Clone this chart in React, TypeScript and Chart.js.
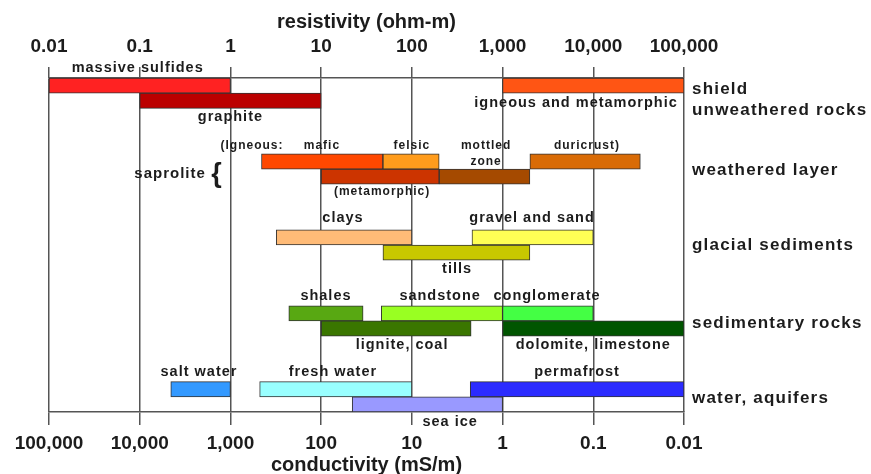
import React, { useEffect, useRef } from 'react';
import { Chart, registerables } from 'chart.js';

Chart.register(...registerables);

const FONT = '"Liberation Sans", Arial, Helvetica, sans-serif';
const TEXT = '#1c1c1c';
const GRID = '#555555';

// axis ticks
const resistivityTicks = [0.01, 0.1, 1, 10, 100, 1000, 10000, 100000];
const resistivityLabels = ['0.01', '0.1', '1', '10', '100', '1,000', '10,000', '100,000'];
const conductivityLabels = ['100,000', '10,000', '1,000', '100', '10', '1', '0.1', '0.01'];

// row slots (top to bottom)
const slotLabels = [
  's0', 's1', 's2', 's3', 's4', 's5', 's6', 's7', 's8', 's9', 's10',
  's11', 's12', 's13', 's14', 's15', 's16', 's17', 's18', 's19', 's20', 's21',
];

// materials: resistivity range in ohm-m
const materials = [
  'massive sulfides', 'graphite', 'igneous and metamorphic',
  'mafic', 'felsic', 'metamorphic', 'mottled zone', 'duricrust',
  'clays', 'gravel and sand', 'tills',
  'shales', 'sandstone', 'conglomerate', 'lignite, coal', 'dolomite, limestone',
  'salt water', 'fresh water', 'permafrost', 'sea ice',
];
const lowValues = [
  0.01, 0.1, 1000,
  2.2, 48, 10, 200, 2000,
  3.2, 460, 48,
  4.4, 46, 1000, 10, 1000,
  0.22, 2.1, 440, 22,
];
const highValues = [
  1, 10, 100000,
  48, 200, 200, 2000, 33000,
  100, 10000, 2000,
  29, 1000, 10000, 450, 100000,
  1, 100, 100000, 1000,
];
const materialRows = [
  0, 1, 0,
  5, 5, 6, 6, 5,
  10, 10, 11,
  15, 15, 15, 16, 16,
  20, 20, 20, 21,
];
const materialColors = [
  '#ff2222', '#bb0000', '#ff5514',
  '#ff4800', '#ff9c1c', '#cc3400', '#a54a00', '#d96b06',
  '#ffbb77', '#ffff55', '#c8c800',
  '#58a812', '#99ff22', '#44ff44', '#3a7600', '#005500',
  '#3399ff', '#99ffff', '#2b2bff', '#9999ff',
];

// annotation texts (x in ohm-m, y in row slots)
const noteTexts = [
  'massive sulfides', 'graphite', 'igneous and metamorphic',
  '(Igneous:', 'mafic', 'felsic', 'mottled', 'zone', 'duricrust)', '(metamorphic)',
  'saprolite', '{',
  'clays', 'gravel and sand', 'tills',
  'shales', 'sandstone', 'conglomerate', 'lignite, coal', 'dolomite, limestone',
  'salt water', 'fresh water', 'permafrost', 'sea ice',
];
const noteX = [
  0.095, 1, 6460,
  1.73, 10.2, 100, 658, 658, 8500, 47,
  0.216, 0.71,
  17.4, 2114, 315,
  11.3, 205, 3090, 78, 10000,
  0.45, 13.5, 6620, 264,
];
const noteSlot = [
  -1.15, 2.07, 1.15,
  3.98, 3.98, 3.98, 3.98, 5.03, 3.98, 7.01,
  5.82, 5.85,
  8.72, 8.72, 12.08,
  13.86, 13.86, 13.86, 17.09, 17.09,
  18.87, 18.87, 18.87, 22.16,
];
const noteSize = [
  14.5, 14.5, 14.5,
  12, 12, 12, 12, 12, 12, 12,
  15, 27,
  14.5, 14.5, 14.5,
  14.5, 14.5, 14.5, 14.5, 14.5,
  14.5, 14.5, 14.5, 14.5,
];

// group labels on the right
const groupTexts = ['shield', 'unweathered rocks', 'weathered layer', 'glacial sediments', 'sedimentary rocks', 'water, aquifers'];
const groupSlot = [0.23, 1.61, 5.56, 10.5, 15.64, 20.58];

const notesPlugin = {
  id: 'notes',
  afterDraw(chart: any) {
    const { ctx, chartArea } = chart;
    const xs = chart.scales.x;
    const ys = chart.scales.y;
    ctx.save();
    ctx.fillStyle = TEXT;
    ctx.textBaseline = 'middle';
    ctx.textAlign = 'center';
    (ctx as any).letterSpacing = '1px';
    noteTexts.forEach((t, i) => {
      ctx.font = `bold ${noteSize[i]}px ${FONT}`;
      ctx.fillText(t, xs.getPixelForValue(noteX[i]), ys.getPixelForValue(noteSlot[i]));
    });
    ctx.textAlign = 'left';
    ctx.font = `bold 17px ${FONT}`;
    (ctx as any).letterSpacing = '1.2px';
    groupTexts.forEach((t, i) => {
      ctx.fillText(t, chartArea.right + 8, ys.getPixelForValue(groupSlot[i]));
    });
    ctx.restore();
  },
};

export default function App() {
  const ref = useRef<HTMLCanvasElement | null>(null);

  useEffect(() => {
    if (!ref.current) return;
    const chart = new Chart(ref.current, {
      type: 'bar',
      data: {
        labels: slotLabels,
        datasets: [
          {
            data: materials.map((_, i) => ({ x: [lowValues[i], highValues[i]], y: slotLabels[materialRows[i]] })) as any,
            backgroundColor: materialColors,
            borderColor: '#333333',
            borderWidth: 1,
            borderSkipped: false,
            categoryPercentage: 1,
            barPercentage: 1,
            xAxisID: 'x',
            yAxisID: 'y',
          },
        ],
      },
      options: {
        responsive: false,
        animation: false,
        indexAxis: 'y',
        layout: { padding: { left: 49, right: 187, top: 0, bottom: 0 } },
        plugins: { legend: { display: false }, tooltip: { enabled: false } },
        scales: {
          y: { type: 'category', display: false, offset: true },
          x: {
            type: 'logarithmic',
            position: 'top',
            min: 0.01,
            max: 100000,
            afterBuildTicks: (s: any) => {
              s.ticks = resistivityTicks.map((v) => ({ value: v }));
            },
            ticks: {
              callback: (_v: any, i: number) => resistivityLabels[i],
              font: { family: FONT, size: 19, weight: 'bold', lineHeight: 1.2 },
              color: TEXT,
              padding: 9,
              maxRotation: 0,
              autoSkip: false,
            },
            grid: { color: GRID, lineWidth: 1.5, tickLength: 11, drawOnChartArea: true },
            border: { display: true, color: GRID, width: 1.5 },
            title: {
              display: true,
              text: 'resistivity (ohm-m)',
              color: TEXT,
              font: { family: FONT, size: 20, weight: 'bold', lineHeight: 0.42 },
              padding: { top: 17.8, bottom: 0 },
            },
          },
          x2: {
            type: 'logarithmic',
            position: 'bottom',
            min: 0.01,
            max: 100000,
            afterBuildTicks: (s: any) => {
              s.ticks = resistivityTicks.map((v) => ({ value: v }));
            },
            ticks: {
              callback: (_v: any, i: number) => conductivityLabels[i],
              font: { family: FONT, size: 19, weight: 'bold', lineHeight: 1.2 },
              color: TEXT,
              padding: 7,
              maxRotation: 0,
              autoSkip: false,
            },
            grid: { color: GRID, lineWidth: 1.5, tickLength: 13, drawOnChartArea: false },
            border: { display: true, color: GRID, width: 1.5 },
            title: {
              display: true,
              text: 'conductivity (mS/m)',
              color: TEXT,
              font: { family: FONT, size: 20, weight: 'bold', lineHeight: 0.3 },
              padding: { top: 0.2, bottom: 6 },
            },
          },
        } as any,
      },
      plugins: [notesPlugin],
    });
    return () => chart.destroy();
  }, []);

  return (
    <div style={{ position: 'fixed', left: 0, top: 0, width: 871, height: 474, background: '#fff' }}>
      <canvas ref={ref} width={871} height={474} style={{ display: 'block' }} />
    </div>
  );
}
